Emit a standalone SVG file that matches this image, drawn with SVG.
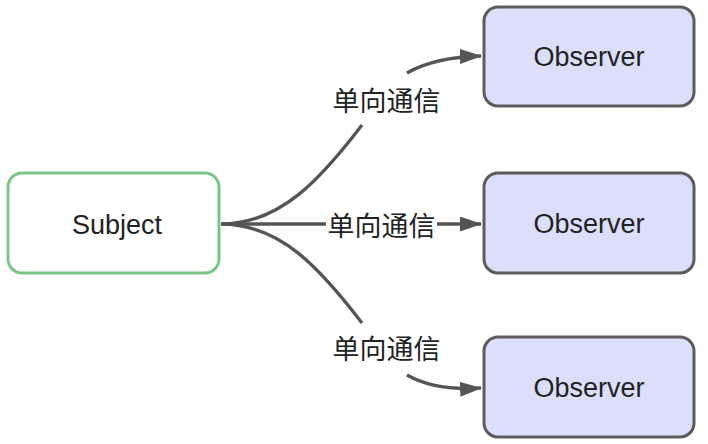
<svg xmlns="http://www.w3.org/2000/svg" width="708" height="444" viewBox="0 0 708 444">
<style>
.node rect{stroke-width:3}
.subj{fill:#ffffff;stroke:#7bc58b}
.obs{fill:#dcdffc;stroke:#5c5c5c}
.lbl{font-family:"Liberation Sans",Arial,sans-serif;font-size:27px;fill:#222;text-anchor:middle}
.edge{fill:none;stroke:#555555;stroke-width:3.3}
.el{font-family:"Noto Sans CJK SC",sans-serif;font-size:27px;fill:#222;text-anchor:middle;dominant-baseline:central}
</style>
<defs>
<marker id="arr" markerUnits="userSpaceOnUse" viewBox="0 0 22 15" refX="21" refY="7.5" markerWidth="22" markerHeight="15" orient="auto">
<path d="M0,0 L22,7.5 L0,15 z" fill="#555555"/>
</marker>
</defs>
<rect width="708" height="444" fill="#ffffff"/>
<g id="connectors">
<path class="edge" d="M221,224 C280,224 320,180 362,125"/>
<path class="edge" d="M407,73 Q435,57 481,56" marker-end="url(#arr)"/>
<path class="edge" d="M221,224 L481,224" marker-end="url(#arr)"/>
<rect x="326" y="209" width="111" height="30" fill="#ffffff"/>
<path class="edge" d="M221,224 C280,224 320,268 362,323"/>
<path class="edge" d="M407,375 Q435,391 481,388" marker-end="url(#arr)"/>
<text class="el" x="386.5" y="99">单向通信</text>
<text class="el" x="381.5" y="224">单向通信</text>
<text class="el" x="386.5" y="347">单向通信</text>
</g>
<g id="subject" class="node">
<rect class="subj" x="8" y="173" width="211" height="100" rx="14"/>
<text class="lbl" x="117" y="234">Subject</text>
</g>
<g id="observer1" class="node">
<rect class="obs" x="484" y="7" width="210" height="99" rx="14"/>
<text class="lbl" x="589" y="66">Observer</text>
</g>
<g id="observer2" class="node">
<rect class="obs" x="484" y="173" width="210" height="100" rx="14"/>
<text class="lbl" x="589" y="233">Observer</text>
</g>
<g id="observer3" class="node">
<rect class="obs" x="484" y="337" width="210" height="100" rx="14"/>
<text class="lbl" x="589" y="397">Observer</text>
</g>
</svg>
